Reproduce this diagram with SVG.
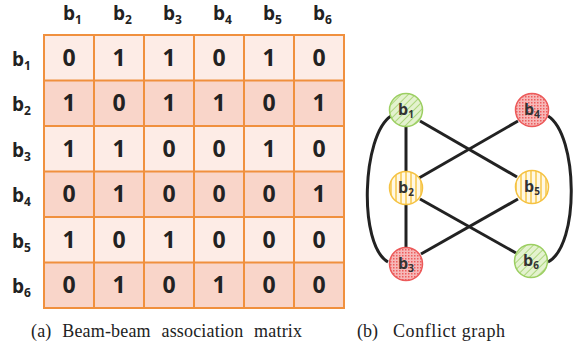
<svg xmlns="http://www.w3.org/2000/svg" width="573" height="349" viewBox="0 0 573 349">
<style>
.hd{font-family:"Open Sans","Liberation Sans",sans-serif;font-weight:bold;font-size:19px;fill:#222}
.sb{font-size:12px}
.v{font-family:"Open Sans","Liberation Sans",sans-serif;font-weight:bold;font-size:23px;fill:#222;text-anchor:middle}
.lt{fill:#fdece6}
.dk{fill:#f9d5c9}
.grid line{stroke:#f0903e;stroke-width:2}
.edge{stroke:#222;stroke-width:3;fill:none}
.nl{font-family:"Open Sans","Liberation Sans",sans-serif;font-weight:bold;font-size:16px;fill:#333;text-anchor:middle}
.nls{font-size:10px}
.cap{font-family:"Liberation Serif","Times New Roman",serif;font-size:18px;fill:#222}
</style>
<defs>
<pattern id="pg" width="5" height="5" patternUnits="userSpaceOnUse" patternTransform="rotate(45)">
<rect width="5" height="5" fill="#e4f2cf"/>
<line x1="0" y1="0" x2="0" y2="5" stroke="#9ccf62" stroke-width="1.5"/>
</pattern>
<pattern id="pr" width="3" height="3" patternUnits="userSpaceOnUse">
<rect width="3" height="3" fill="#f6b8b8"/>
<rect width="1.5" height="1.5" fill="#ee5e5e"/>
</pattern>
<pattern id="py" width="5" height="5" patternUnits="userSpaceOnUse">
<rect width="5" height="5" fill="#fff8e4"/>
<line x1="1" y1="0" x2="1" y2="5" stroke="#f7c94c" stroke-width="1.5"/>
</pattern>
</defs>

<g id="matrix">
<rect class="lt" x="44" y="35" width="300" height="45.5"/>
<rect class="dk" x="44" y="80.5" width="300" height="45.5"/>
<rect class="lt" x="44" y="126" width="300" height="45.5"/>
<rect class="dk" x="44" y="171.5" width="300" height="45.5"/>
<rect class="lt" x="44" y="217" width="300" height="45.5"/>
<rect class="dk" x="44" y="262.5" width="300" height="45.5"/>
<g class="grid">
<line x1="44" y1="35" x2="344" y2="35"/>
<line x1="44" y1="80.5" x2="344" y2="80.5"/>
<line x1="44" y1="126" x2="344" y2="126"/>
<line x1="44" y1="171.5" x2="344" y2="171.5"/>
<line x1="44" y1="217" x2="344" y2="217"/>
<line x1="44" y1="262.5" x2="344" y2="262.5"/>
<line x1="44" y1="308" x2="344" y2="308"/>
<line x1="44" y1="34" x2="44" y2="309"/>
<line x1="94" y1="34" x2="94" y2="309"/>
<line x1="144" y1="34" x2="144" y2="309"/>
<line x1="194" y1="34" x2="194" y2="309"/>
<line x1="244" y1="34" x2="244" y2="309"/>
<line x1="294" y1="34" x2="294" y2="309"/>
<line x1="344" y1="34" x2="344" y2="309"/>
</g>
<g class="hd">
<text x="63" y="20">b<tspan class="sb" dy="4">1</tspan></text>
<text x="113" y="20">b<tspan class="sb" dy="4">2</tspan></text>
<text x="163" y="20">b<tspan class="sb" dy="4">3</tspan></text>
<text x="213" y="20">b<tspan class="sb" dy="4">4</tspan></text>
<text x="263" y="20">b<tspan class="sb" dy="4">5</tspan></text>
<text x="313" y="20">b<tspan class="sb" dy="4">6</tspan></text>
<text x="12" y="66">b<tspan class="sb" dy="4">1</tspan></text>
<text x="12" y="111">b<tspan class="sb" dy="4">2</tspan></text>
<text x="12" y="157">b<tspan class="sb" dy="4">3</tspan></text>
<text x="12" y="202">b<tspan class="sb" dy="4">4</tspan></text>
<text x="12" y="248">b<tspan class="sb" dy="4">5</tspan></text>
<text x="12" y="293">b<tspan class="sb" dy="4">6</tspan></text>
</g>
<g class="v">
<text x="69" y="66">0</text><text x="119" y="66">1</text><text x="169" y="66">1</text><text x="219" y="66">0</text><text x="269" y="66">1</text><text x="319" y="66">0</text>
<text x="69" y="111">1</text><text x="119" y="111">0</text><text x="169" y="111">1</text><text x="219" y="111">1</text><text x="269" y="111">0</text><text x="319" y="111">1</text>
<text x="69" y="157">1</text><text x="119" y="157">1</text><text x="169" y="157">0</text><text x="219" y="157">0</text><text x="269" y="157">1</text><text x="319" y="157">0</text>
<text x="69" y="202">0</text><text x="119" y="202">1</text><text x="169" y="202">0</text><text x="219" y="202">0</text><text x="269" y="202">0</text><text x="319" y="202">1</text>
<text x="69" y="248">1</text><text x="119" y="248">0</text><text x="169" y="248">1</text><text x="219" y="248">0</text><text x="269" y="248">0</text><text x="319" y="248">0</text>
<text x="69" y="293">0</text><text x="119" y="293">1</text><text x="169" y="293">0</text><text x="219" y="293">1</text><text x="269" y="293">0</text><text x="319" y="293">0</text>
</g>
</g>

<g id="connectors">
<line class="edge" x1="406" y1="127" x2="406" y2="171"/>
<line class="edge" x1="406" y1="205" x2="406" y2="247"/>
<line class="edge" x1="420" y1="121" x2="517" y2="177"/>
<line class="edge" x1="518" y1="121" x2="419" y2="178"/>
<line class="edge" x1="420" y1="199" x2="516" y2="253"/>
<line class="edge" x1="518" y1="199" x2="421" y2="254"/>
<path class="edge" d="M391,116 C362,135 358,245 388,262"/>
<path class="edge" d="M548,116 C578,135 580,245 548,262"/>
</g>

<g id="b1">
<circle cx="406" cy="110" r="16.5" fill="url(#pg)" stroke="#9ccf62" stroke-width="1.5"/>
<text class="nl" x="406" y="115">b<tspan class="nls" dy="3">1</tspan></text>
</g>
<g id="b4">
<circle cx="532" cy="110" r="16.5" fill="url(#pr)" stroke="#ec5a5a" stroke-width="1.5"/>
<text class="nl" x="532" y="115">b<tspan class="nls" dy="3">4</tspan></text>
</g>
<g id="b2">
<circle cx="406" cy="188" r="16.5" fill="url(#py)" stroke="#f5c242" stroke-width="1.5"/>
<text class="nl" x="406" y="193">b<tspan class="nls" dy="3">2</tspan></text>
</g>
<g id="b5">
<circle cx="532" cy="187" r="16.5" fill="url(#py)" stroke="#f5c242" stroke-width="1.5"/>
<text class="nl" x="532" y="192">b<tspan class="nls" dy="3">5</tspan></text>
</g>
<g id="b3">
<circle cx="406" cy="264" r="16.5" fill="url(#pr)" stroke="#ec5a5a" stroke-width="1.5"/>
<text class="nl" x="406" y="269">b<tspan class="nls" dy="3">3</tspan></text>
</g>
<g id="b6">
<circle cx="531" cy="261" r="16.5" fill="url(#pg)" stroke="#9ccf62" stroke-width="1.5"/>
<text class="nl" x="531" y="266">b<tspan class="nls" dy="3">6</tspan></text>
</g>

<text class="cap" x="31" y="337" textLength="271" lengthAdjust="spacing" style="word-spacing:6px">(a) Beam-beam association matrix</text>
<text class="cap" y="337"><tspan x="357">(b)</tspan><tspan x="393" textLength="112" lengthAdjust="spacing">Conflict graph</tspan></text>
</svg>
